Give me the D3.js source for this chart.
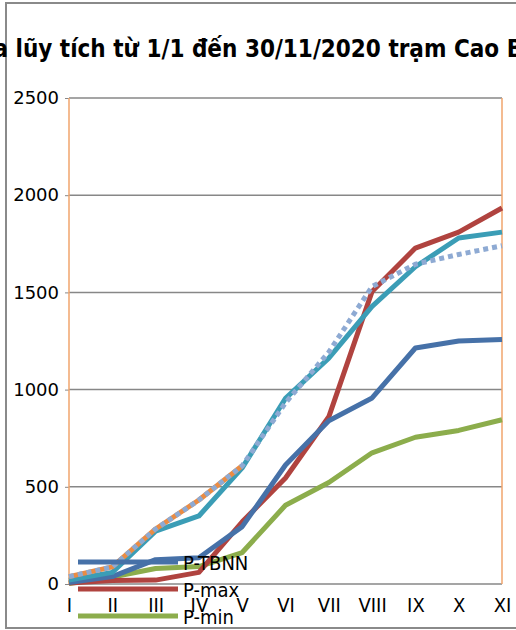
<!DOCTYPE html>
<html>
<head>
<meta charset="utf-8">
<script src="https://cdn.jsdelivr.net/npm/d3@7"></script>
<style>
  body { margin: 0; background: #fff; overflow: hidden; }
  svg { display: block; font-family: "DejaVu Sans", sans-serif; }
</style>
</head>
<body>
<svg id="chart" width="516" height="630"></svg>
<script>
// months (roman numerals) on the x axis
var months = ["I", "II", "III", "IV", "V", "VI", "VII", "VIII", "IX", "X", "XI"];
var yTicks = [0, 500, 1000, 1500, 2000, 2500];

// cumulative rainfall (mm)
var pTBNN = [8, 38, 125, 135, 295, 612, 840, 957, 1214, 1250, 1258];
var pMax = [5, 18, 20, 60, 320, 545, 860, 1505, 1728, 1810, 1934];
var pMin = [3, 36, 80, 90, 162, 405, 522, 675, 755, 790, 845];
var pTeal = [20, 60, 272, 350, 597, 955, 1162, 1428, 1632, 1780, 1810];
var pDotted = [38, 88, 283, 432, 608, 932, 1193, 1530, 1645, 1695, 1740];
var pOrange = [38, 88, 283, 432, 608];

var titleText = "Lượng mưa lũy tích từ 1/1 đến 30/11/2020 trạm Cao Bằng";

var svg = d3.select("#chart");

// plot area edges (note: "top" is taken by window.top)
var plotL = 69, plotR = 502, plotT = 98, plotB = 584;

var x = d3.scalePoint().domain(months).range([plotL, plotR]).padding(0);
var y = d3.scaleLinear().domain([0, 2500]).range([plotB, plotT]);

// outer chart frame
svg.append("path")
  .attr("d", "M520,3 H6 V628 H520")
  .style("fill", "none")
  .style("stroke", "#8a8a8a")
  .style("stroke-width", 2);

// gridlines
svg.append("g")
  .selectAll("line")
  .data(yTicks)
  .enter().append("line")
  .attr("x1", plotL)
  .attr("x2", plotR)
  .attr("y1", d => y(d))
  .attr("y2", d => y(d))
  .style("stroke", "#878787")
  .style("stroke-width", 1.5);

// y axis labels + ticks
var yAxis = svg.append("g")
  .attr("transform", `translate(${plotL},0)`)
  .call(d3.axisLeft(y).tickValues(yTicks).tickFormat(d3.format("d")).tickSize(4).tickPadding(6));
yAxis.select(".domain").remove();
yAxis.selectAll(".tick line").style("stroke", "#878787");
yAxis.selectAll("text")
  .style("font-family", "DejaVu Sans")
  .style("font-size", "18px")
  .style("fill", "#000");

// x axis labels
var xAxis = svg.append("g")
  .attr("transform", `translate(0,${plotB})`)
  .call(d3.axisBottom(x).tickSize(0).tickPadding(14));
xAxis.select(".domain").remove();
xAxis.selectAll("text")
  .style("font-family", "DejaVu Sans Condensed")
  .style("font-size", "20px")
  .style("fill", "#000");

// orange edges of the plot area
svg.append("g")
  .selectAll("line")
  .data([months[0], months[months.length - 1]])
  .enter().append("line")
  .attr("x1", d => x(d))
  .attr("x2", d => x(d))
  .attr("y1", plotT)
  .attr("y2", plotB)
  .style("stroke", "#f0a46c")
  .style("stroke-width", 1.5);

var line = d3.line()
  .x((d, i) => x(months[i]))
  .y(d => y(d));

var series = [
  { values: pMin, color: "#8cad4c" },
  { values: pMax, color: "#b0433f" },
  { values: pTBNN, color: "#4671a8" },
  { values: pTeal, color: "#3b9db6" },
  { values: pOrange, color: "#ea8c44" },
  { values: pDotted, color: "#8eaad3", dash: "5,4" }
];

svg.append("g")
  .selectAll("path")
  .data(series)
  .enter().append("path")
  .attr("d", d => line(d.values))
  .style("fill", "none")
  .style("stroke", d => d.color)
  .style("stroke-width", 5)
  .style("stroke-linejoin", "round")
  .style("stroke-dasharray", d => d.dash || null);

// title, clipped at the left edge like in the original
var title = svg.append("text")
  .attr("y", 57)
  .style("font-family", "DejaVu Sans Condensed")
  .style("font-weight", "bold")
  .style("font-size", "24px")
  .text(titleText);
var probe = svg.append("text")
  .style("font-family", "DejaVu Sans Condensed")
  .style("font-weight", "bold")
  .style("font-size", "24px")
  .text("Lượng mưa");
var prefixW = probe.node().getComputedTextLength();
probe.remove();
title.attr("x", 8 - prefixW);

// legend
var legendNames = ["P-TBNN", "P-max", "P-min"];
var legendColors = ["#4671a8", "#b0433f", "#8cad4c"];
var legendY = [562, 589, 616];

var legend = svg.append("g")
  .selectAll("g")
  .data(legendNames)
  .enter().append("g")
  .attr("transform", (d, i) => `translate(0,${legendY[i]})`);
legend.append("line")
  .attr("x1", 78)
  .attr("x2", 178)
  .style("stroke", (d, i) => legendColors[i])
  .style("stroke-width", 5);
legend.append("text")
  .attr("x", 183)
  .attr("dy", "0.38em")
  .style("font-size", "20px")
  .style("font-family", "DejaVu Sans Condensed")
  .text(d => d);
</script>
</body>
</html>
